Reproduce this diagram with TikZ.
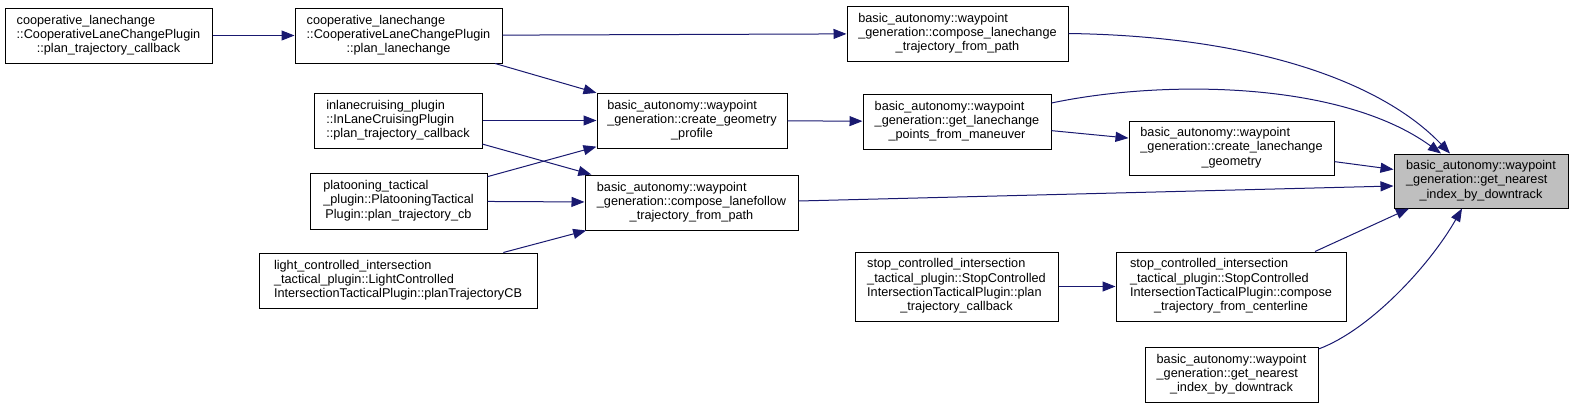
\documentclass[tikz,border=0pt]{standalone}
\usepackage{fontspec}
\setmainfont{Liberation Sans}
\usetikzlibrary{arrows.meta}
\definecolor{edgec}{HTML}{191970}
\definecolor{fillg}{HTML}{BFBFBF}
\newcommand\dlbl[2]{\begin{tabular}{@{}l@{}}#1\\\multicolumn{1}{@{}c@{}}{#2}\end{tabular}}
\tikzset{
  fn/.style={draw=black, line width=1pt, fill=white, inner sep=0pt, anchor=center,
    font=\fontsize{12.7}{14.3}\selectfont},
  tgt/.style={fn, fill=fillg},
  edge/.style={draw=edgec, line width=1pt, -{Triangle[length=13pt,width=10pt]}}
}
\begin{document}
\begin{tikzpicture}[x=1pt,y=-1pt]
\useasboundingbox (0,0) rectangle (1573,408);
\node[fn, minimum width=207pt, minimum height=55pt] (A) at (108.5,35.5)
  {\dlbl{cooperative\_lanechange\\::CooperativeLaneChangePlugin}{::plan\_trajectory\_callback}};
\node[fn, minimum width=207pt, minimum height=55pt] (B) at (398.5,35.5)
  {\dlbl{cooperative\_lanechange\\::CooperativeLaneChangePlugin}{::plan\_lanechange}};
\node[fn, minimum width=221pt, minimum height=55pt] (C) at (957.5,33.5)
  {\dlbl{basic\_autonomy::waypoint\\\_generation::compose\_lanechange}{\_trajectory\_from\_path}};
\node[fn, minimum width=190pt, minimum height=55pt] (D) at (692,120.5)
  {\dlbl{basic\_autonomy::waypoint\\\_generation::create\_geometry}{\_profile}};
\node[fn, minimum width=188pt, minimum height=55pt] (E) at (957,121.5)
  {\dlbl{basic\_autonomy::waypoint\\\_generation::get\_lanechange}{\_points\_from\_maneuver}};
\node[fn, minimum width=205pt, minimum height=54pt] (F) at (1231.5,148)
  {\dlbl{basic\_autonomy::waypoint\\\_generation::create\_lanechange}{\_geometry}};
\node[tgt, minimum width=174pt, minimum height=54pt] (G) at (1481,181)
  {\dlbl{basic\_autonomy::waypoint\\\_generation::get\_nearest}{\_index\_by\_downtrack}};
\node[fn, minimum width=168pt, minimum height=55pt] (H) at (398,120.5)
  {\dlbl{inlanecruising\_plugin\\::InLaneCruisingPlugin}{::plan\_trajectory\_callback}};
\node[fn, minimum width=177pt, minimum height=56pt] (I) at (398.5,201)
  {\dlbl{platooning\_tactical\\\_plugin::PlatooningTactical}{Plugin::plan\_trajectory\_cb}};
\node[fn, minimum width=213pt, minimum height=55pt] (J) at (691.5,202.5)
  {\dlbl{basic\_autonomy::waypoint\\\_generation::compose\_lanefollow}{\_trajectory\_from\_path}};
\node[fn, minimum width=278pt, minimum height=55pt] (K) at (398,280.5)
  {\dlbl{light\_controlled\_intersection\\\_tactical\_plugin::LightControlled}{IntersectionTacticalPlugin::planTrajectoryCB}};
\node[fn, minimum width=203pt, minimum height=69pt] (L) at (956.5,286.5)
  {\dlbl{stop\_controlled\_intersection\\\_tactical\_plugin::StopControlled\\IntersectionTacticalPlugin::plan}{\_trajectory\_callback}};
\node[fn, minimum width=230pt, minimum height=69pt] (M) at (1231,286.5)
  {\dlbl{stop\_controlled\_intersection\\\_tactical\_plugin::StopControlled\\IntersectionTacticalPlugin::compose}{\_trajectory\_from\_centerline}};
\node[fn, minimum width=173pt, minimum height=55pt] (N) at (1231.5,374.5)
  {\dlbl{basic\_autonomy::waypoint\\\_generation::get\_nearest}{\_index\_by\_downtrack}};

\draw[edge] (A) -- (B);
\draw[edge] (B) -- (C);
\draw[edge] (B) -- (D);
\draw[edge] (H) -- (D);
\draw[edge] (I) -- (D);
\draw[edge] (H) -- (J);
\draw[edge] (I) -- (J);
\draw[edge] (K) -- (J);
\draw[edge] (D) -- (E);
\draw[edge] (E) -- (F);
\draw[edge] (F) -- (G);
\draw[edge] ([yshift=1.5pt]J.east) -- ([yshift=-5pt]G.west);
\draw[edge] (L) -- (M);
\draw[edge] ([xshift=84pt]M.north) -- ([xshift=-72pt]G.south);
\draw[edge] (C.east) .. controls (1250,36) and (1380,80) .. ([xshift=-31pt]G.north);
\draw[edge] ([yshift=18.5pt]E.east) .. controls (1160,80) and (1340,80) .. ([xshift=-40pt]G.north);
\draw[edge] ([yshift=25.5pt]N.east) .. controls (1370,330) and (1430,265) .. ([xshift=-19pt]G.south);
\end{tikzpicture}
\end{document}
